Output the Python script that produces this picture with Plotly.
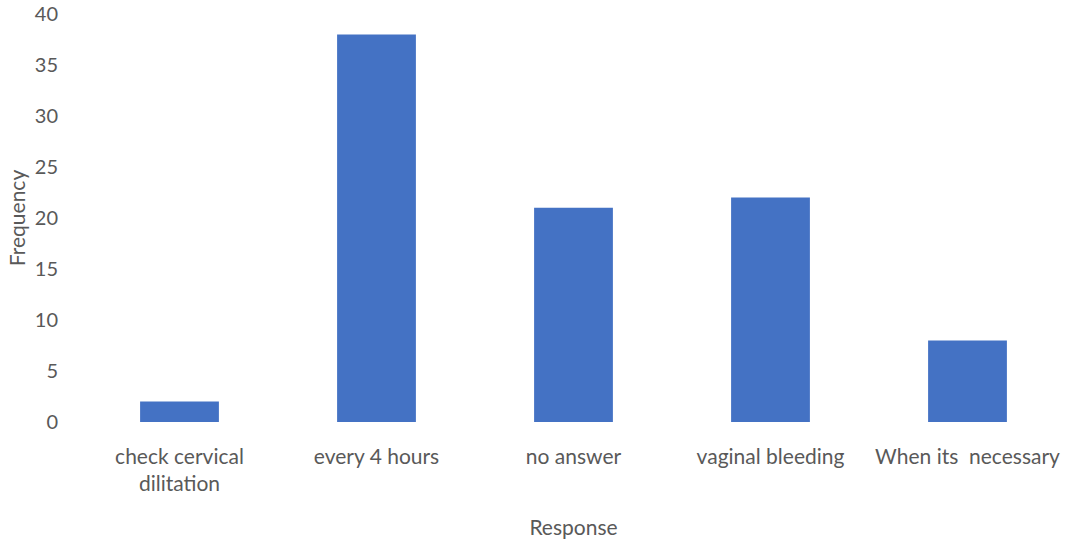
import plotly.graph_objects as go

categories = ["check cervical<br>dilitation", "every 4 hours", "no answer", "vaginal bleeding", "When its  necessary"]
frequency = [2, 38, 21, 22, 8]
y_ticks = [0, 5, 10, 15, 20, 25, 30, 35, 40]

fig = go.Figure()
fig.add_trace(go.Bar(x=categories, y=frequency, marker_color="#4472C4", width=0.4,
                     marker_line_width=0))

font_family = "Lato, 'Open Sans', sans-serif"
fig.update_layout(
    width=1073, height=540,
    margin=dict(l=81, r=7, t=14, b=118),
    plot_bgcolor="white", paper_bgcolor="white",
    font=dict(family=font_family, size=21, color="#595959"),
    showlegend=False,
    xaxis=dict(
        showgrid=False, showline=False, zeroline=False, ticks="",
        ticklabelstandoff=20,
        tickfont=dict(size=21, color="#595959"),
        title=dict(text="Response", font=dict(size=21, color="#595959"), standoff=26),
        automargin=False,
    ),
    yaxis=dict(
        range=[0, 40], tickvals=y_ticks, showgrid=False, showline=False, zeroline=False,
        ticks="", ticklabelstandoff=22,
        tickfont=dict(size=20, color="#595959"),
        title=dict(text="Frequency", font=dict(size=21, color="#595959"), standoff=3),
        automargin=False,
    ),
)
fig.write_html("out.html")
